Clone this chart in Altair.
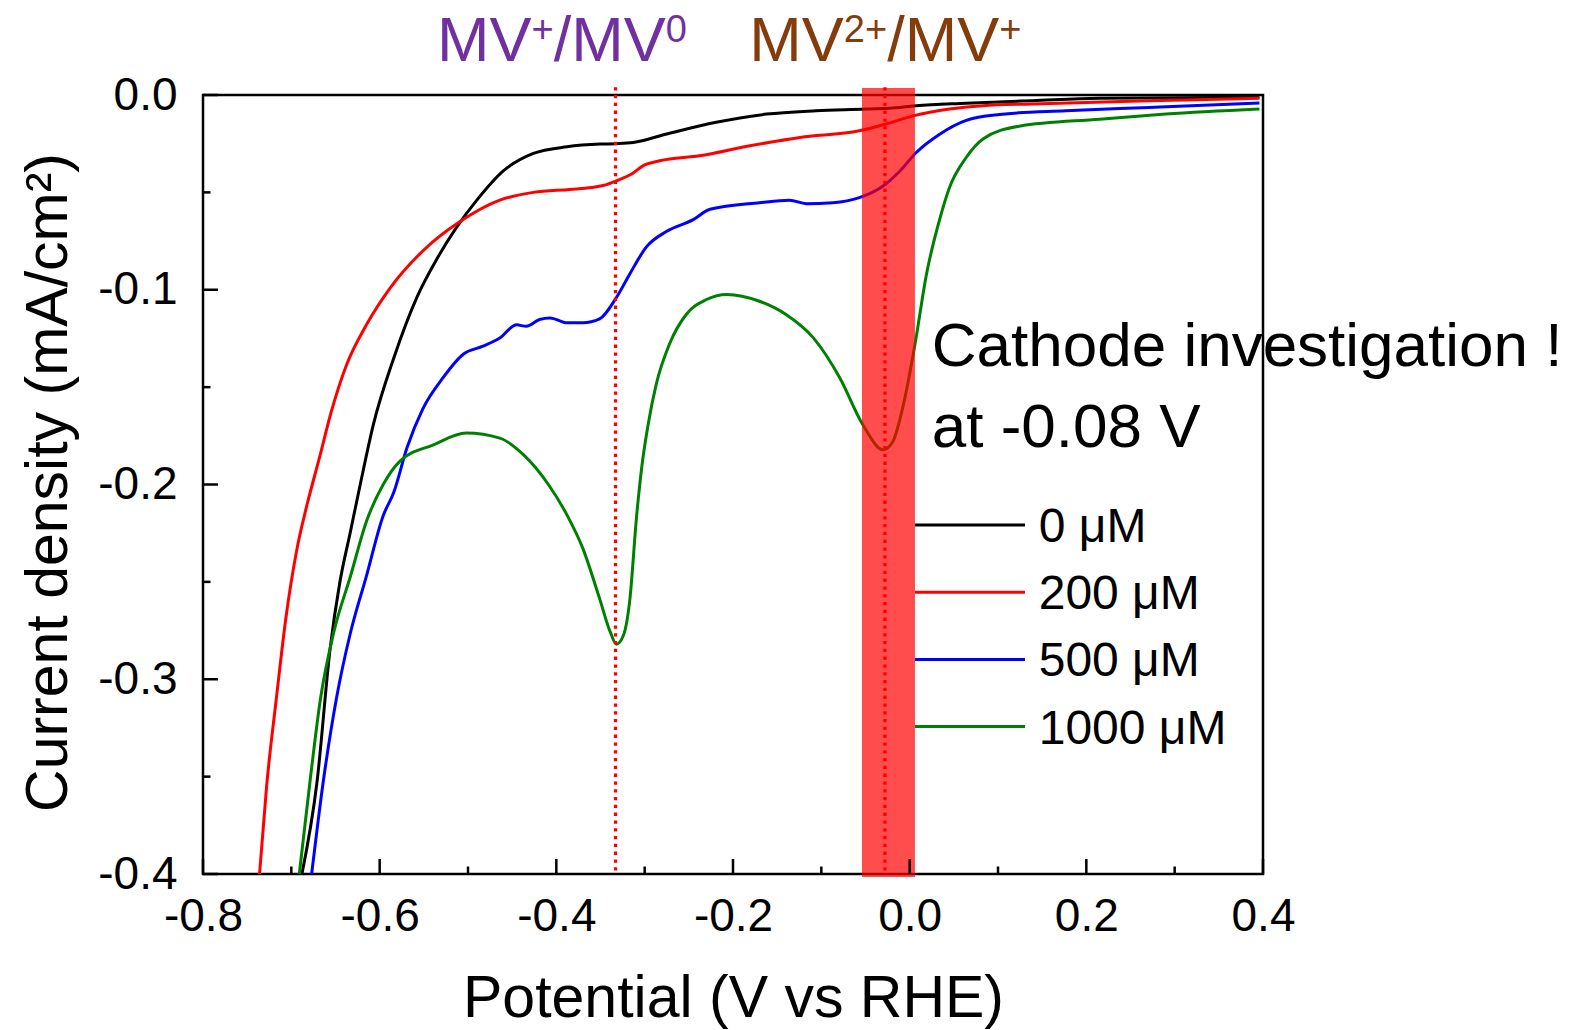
import altair as alt
import pandas as pd

# Linear sweep voltammograms: current density vs potential for four MV concentrations
series_names = ["0 μM", "200 μM", "500 μM", "1000 μM"]
series_colors = ["#000000", "#FF0000", "#0000FF", "#008000"]

potential_0 = [-0.688, -0.671, -0.656, -0.645, -0.633, -0.622, -0.607, -0.584, -0.558,
               -0.535, -0.513, -0.490, -0.460, -0.426, -0.388, -0.350, -0.332, -0.313,
               -0.275, -0.219, -0.162, -0.106, -0.049, -0.011, 0.0075, 0.064, 0.139,
               0.215, 0.396]
current_0 = [-0.400, -0.353, -0.284, -0.250, -0.224, -0.200, -0.169, -0.135, -0.104,
             -0.084, -0.068, -0.054, -0.039, -0.030, -0.0266, -0.0252, -0.0250, -0.0244,
             -0.0200, -0.0140, -0.0098, -0.0081, -0.0072, -0.0064, -0.0055, -0.0042, -0.0029,
             -0.0017, -0.0012]

potential_200 = [-0.736, -0.728, -0.717, -0.706, -0.694, -0.682, -0.668, -0.655, -0.637,
                 -0.615, -0.588, -0.551, -0.509, -0.464, -0.426, -0.385, -0.360, -0.347,
                 -0.332, -0.313, -0.302, -0.283, -0.238, -0.181, -0.124, -0.057, -0.027,
                 0.004, 0.045, 0.083, 0.139, 0.271, 0.396]
current_200 = [-0.400, -0.355, -0.310, -0.268, -0.234, -0.210, -0.186, -0.163, -0.138,
               -0.118, -0.099, -0.080, -0.065, -0.054, -0.050, -0.0485, -0.0475, -0.0465,
               -0.0441, -0.0400, -0.0364, -0.0338, -0.0312, -0.0261, -0.0218, -0.0184, -0.0149,
               -0.0107, -0.0072, -0.0055, -0.0046, -0.0029, -0.0017]

potential_500 = [-0.677, -0.664, -0.649, -0.633, -0.615, -0.596, -0.584, -0.569, -0.551,
                 -0.528, -0.505, -0.483, -0.464, -0.445, -0.434, -0.419, -0.407, -0.388,
                 -0.370, -0.351, -0.332, -0.317, -0.298, -0.275, -0.245, -0.226, -0.170,
                 -0.136, -0.117, -0.087, -0.057, -0.030, -0.011, 0.0075, 0.034, 0.064,
                 0.102, 0.177, 0.271, 0.396]
current_500 = [-0.400, -0.353, -0.310, -0.276, -0.247, -0.216, -0.204, -0.181, -0.161,
               -0.145, -0.133, -0.129, -0.1248, -0.118, -0.1188, -0.1153, -0.1145, -0.117,
               -0.117, -0.115, -0.104, -0.092, -0.078, -0.070, -0.064, -0.0587, -0.0553,
               -0.054, -0.0558, -0.0553, -0.0527, -0.0467, -0.039, -0.0295, -0.0201, -0.013,
               -0.0100, -0.0081, -0.0064, -0.0041]

potential_1000 = [-0.691, -0.679, -0.667, -0.652, -0.633, -0.615, -0.596, -0.577, -0.539,
                  -0.502, -0.464, -0.437, -0.409, -0.388, -0.370, -0.351, -0.339, -0.332,
                  -0.324, -0.317, -0.309, -0.303, -0.296, -0.287, -0.272, -0.253, -0.230,
                  -0.207, -0.170, -0.140, -0.109, -0.079, -0.053, -0.030, -0.019, -0.008,
                  0.006, 0.019, 0.034, 0.045, 0.064, 0.083, 0.124, 0.215, 0.290, 0.396]
current_1000 = [-0.400, -0.353, -0.310, -0.276, -0.247, -0.219, -0.200, -0.188, -0.1796,
                -0.1736, -0.1762, -0.1848, -0.200, -0.2156, -0.2328, -0.2586, -0.2757, -0.2820,
                -0.2774, -0.260, -0.2156, -0.190, -0.169, -0.1487, -0.128, -0.1127, -0.105,
                -0.1024, -0.1059, -0.1127, -0.1247, -0.1453, -0.1693, -0.1822, -0.1779, -0.1608,
                -0.1281, -0.0921, -0.0638, -0.0476, -0.0321, -0.0226, -0.0160, -0.0124, -0.0098,
                -0.0072]

# Axis ticks
x_major = [-0.8, -0.6, -0.4, -0.2, 0.0, 0.2, 0.4]
x_minor = [-0.7, -0.5, -0.3, -0.1, 0.1, 0.3]
y_major = [0.0, -0.1, -0.2, -0.3, -0.4]
y_minor = [-0.05, -0.15, -0.25, -0.35]

# Redox markers: MV+/MV0 and MV2+/MV+ peak potentials, highlighted window
peak_potentials = [-0.333, -0.028]
marker_top, marker_bottom = 0.004, -0.4
band_left, band_right = -0.054, 0.006
band_top, band_bottom = 0.0036, -0.4015

FONT = "Liberation Sans"
W, H = 1060, 779

curves = pd.concat([
    pd.DataFrame({"potential": v, "current": j, "series": name})
    for name, v, j in zip(
        series_names,
        [potential_0, potential_200, potential_500, potential_1000],
        [current_0, current_200, current_500, current_1000],
    )
])

x_scale = alt.Scale(domain=[-0.8, 0.4], nice=False, zero=False)
y_scale = alt.Scale(domain=[-0.4, 0.0], nice=False, zero=False)
color_scale = alt.Scale(domain=series_names, range=series_colors)

hyphen_fmt = "datum.value < -0.00001 ? '-' + format(abs(datum.value), '.1f') : format(abs(datum.value), '.1f')"

x_axis = alt.Axis(
    values=x_major, labelExpr=hyphen_fmt, labelFont=FONT, labelFontSize=46,
    labelColor="black", labelPadding=20, labelFlush=False, labelOverlap=False,
    ticks=False, domain=False, grid=False,
    title="Potential (V vs RHE)", titleFont=FONT, titleFontSize=59,
    titleFontWeight="normal", titleColor="black", titleX=W / 2, titleY=142,
    titleBaseline="alphabetic", titleAlign="center",
)
y_axis = alt.Axis(
    values=y_major, labelExpr=hyphen_fmt, labelFont=FONT, labelFontSize=46,
    labelColor="black", labelPadding=26, labelFlush=False, labelOverlap=False,
    ticks=False, domain=False, grid=False,
    title="Current density (mA/cm²)", titleFont=FONT, titleFontSize=59,
    titleFontWeight="normal", titleColor="black", titleX=-137, titleY=387,
    titleBaseline="alphabetic", titleAlign="center", titleAngle=270,
)


def X(field):
    return alt.X(field, scale=x_scale, axis=x_axis)


def Y(field):
    return alt.Y(field, scale=y_scale, axis=y_axis)


lines = alt.Chart(curves).mark_line(strokeWidth=3, interpolate="monotone", clip=True).encode(
    x=X("potential:Q"),
    y=Y("current:Q"),
    color=alt.Color("series:N", scale=color_scale, legend=None),
    detail="series:N",
)

band = alt.Chart(pd.DataFrame({
    "x": [band_left], "x2": [band_right], "y": [band_top], "y2": [band_bottom]
})).mark_rect(color="#FF0000", opacity=0.7).encode(
    x=X("x:Q"), x2="x2:Q", y=Y("y:Q"), y2="y2:Q",
)

markers = alt.Chart(pd.DataFrame({
    "x": peak_potentials, "top": [marker_top] * 2, "bottom": [marker_bottom] * 2
})).mark_rule(color="#FF0000", strokeWidth=3.3, strokeDash=[3.3, 4.5]).encode(
    x=X("x:Q"), y=Y("top:Q"), y2="bottom:Q",
)


def text_piece(text, x, y, size, color, dx=0, dy=0):
    return alt.Chart(pd.DataFrame({"x": [x], "y": [y], "t": [text]})).mark_text(
        align="left", baseline="alphabetic", font=FONT, fontSize=size, color=color,
        dx=dx, dy=dy,
    ).encode(x=X("x:Q"), y=Y("y:Q"), text="t:N")


def redox_label(parts, x, y, color, size=63, sup_size=38, rise=19):
    """Chemical label built from (text, is_superscript) pieces laid out left to right."""
    widths = {"M": 0.833, "V": 0.667, "/": 0.278, "+": 0.584, "0": 0.556, "2": 0.556}
    pieces, offset = [], 0.0
    for text, sup in parts:
        fs = sup_size if sup else size
        pieces.append(text_piece(text, x, y, fs, color, dx=offset, dy=-rise if sup else 0))
        offset += sum(widths[c] for c in text) * fs
    return pieces


labels = (
    redox_label([("MV", False), ("+", True), ("/MV", False), ("0", True)],
                -0.535, 0.0177, "#7030A0")
    + redox_label([("MV", False), ("2+", True), ("/MV", False), ("+", True)],
                  -0.1815, 0.0177, "#843C0C")
    + [text_piece("Cathode investigation !", 0.025, -0.1392, 62, "black"),
       text_piece("at -0.08 V", 0.025, -0.1807, 62, "black")]
)

# Inward tick marks on bottom and left axes
x_ticks_major = alt.Chart(pd.DataFrame({"v": x_major})).mark_rule(color="black", strokeWidth=2.5).encode(
    x=X("v:Q"), y=alt.value(H), y2=alt.value(H - 15))
x_ticks_minor = alt.Chart(pd.DataFrame({"v": x_minor})).mark_rule(color="black", strokeWidth=2.5).encode(
    x=X("v:Q"), y=alt.value(H), y2=alt.value(H - 7.5))
y_ticks_major = alt.Chart(pd.DataFrame({"v": y_major})).mark_rule(color="black", strokeWidth=2.5).encode(
    y=Y("v:Q"), x=alt.value(0), x2=alt.value(15))
y_ticks_minor = alt.Chart(pd.DataFrame({"v": y_minor})).mark_rule(color="black", strokeWidth=2.5).encode(
    y=Y("v:Q"), x=alt.value(0), x2=alt.value(7.5))

# Legend inside the plot: one row per concentration, stacked below the annotation
legend_first_row, legend_row_step = -0.2208, 0.0345
legend_base = alt.Chart(pd.DataFrame({"series": series_names})).transform_window(
    row="row_number()"
).transform_calculate(
    row_y=f"{legend_first_row} - (datum.row - 1) * {legend_row_step}"
)
legend_lines = legend_base.mark_rule(strokeWidth=3).encode(
    y=Y("row_y:Q"),
    x=alt.value(712), x2=alt.value(822),
    color=alt.Color("series:N", scale=color_scale, legend=None),
)
legend_text = legend_base.mark_text(
    align="left", baseline="alphabetic", dy=17, font=FONT, fontSize=48, color="black"
).encode(
    y=Y("row_y:Q"),
    x=alt.value(835.7),
    text="series:N",
)

chart = alt.layer(
    lines, band, markers, *labels,
    x_ticks_major, x_ticks_minor, y_ticks_major, y_ticks_minor,
    legend_lines, legend_text,
).properties(
    width=W, height=H,
    autosize=alt.AutoSizeParams(type="none"),
    padding={"left": 203, "top": 95, "right": 1589 - 203 - W, "bottom": 1030 - 95 - H},
    background="white",
).configure_view(stroke="black", strokeWidth=2.5)

chart.save("out.html", embed_options={"renderer": "svg", "actions": False})
